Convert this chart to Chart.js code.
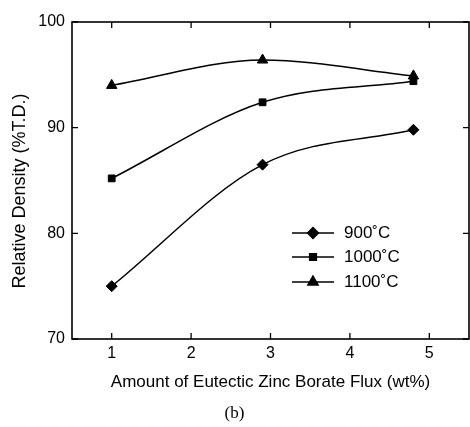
<!DOCTYPE html>
<html>
<head>
<meta charset="utf-8">
<script src="https://cdn.jsdelivr.net/npm/chart.js@4/dist/chart.umd.min.js"></script>
<style>
  html, body { margin: 0; padding: 0; background: #fff; }
  #wrap { width: 470px; height: 427px; }
</style>
</head>
<body>
<div id="wrap"><canvas id="densityChart" width="470" height="427"></canvas></div>
<script>
// Data
const fluxAmount = [1, 2.9, 4.8];          // wt%
const density900 = [75.0, 86.5, 89.8];
const density1000 = [85.2, 92.4, 94.4];
const density1100 = [94.0, 96.4, 94.9];
const seriesLabels = ['900\u02daC', '1000\u02daC', '1100\u02daC'];
const xTicks = [1, 2, 3, 4, 5];
const yTicks = [70, 80, 90, 100];

const SANS = "'Liberation Sans', Arial, Helvetica, sans-serif";
const Y_TITLE = 'Relative Density (%T.D.)';

const toPoints = ys => fluxAmount.map((x, i) => ({ x, y: ys[i] }));

// Box frame with inward tick marks on all four sides, y title, inset legend
const frameAndLegend = {
    id: 'frameAndLegend',
    afterDatasetsDraw(chart) {
        const { ctx, chartArea: a, scales: { x, y } } = chart;
        ctx.save();
        ctx.strokeStyle = '#000';
        ctx.lineWidth = 1.6;
        ctx.strokeRect(a.left, a.top, a.right - a.left, a.bottom - a.top);

        const tl = 6;
        ctx.lineWidth = 1.3;
        ctx.beginPath();
        xTicks.forEach(v => {
            const px = x.getPixelForValue(v);
            ctx.moveTo(px, a.bottom); ctx.lineTo(px, a.bottom - tl);
            ctx.moveTo(px, a.top); ctx.lineTo(px, a.top + tl);
        });
        yTicks.forEach(v => {
            const py = y.getPixelForValue(v);
            ctx.moveTo(a.left, py); ctx.lineTo(a.left + tl, py);
            ctx.moveTo(a.right, py); ctx.lineTo(a.right - tl, py);
        });
        ctx.stroke();

        // y axis title (sits a little below the plot centre in the original)
        ctx.save();
        ctx.translate(20, 191);
        ctx.rotate(-Math.PI / 2);
        ctx.fillStyle = '#000';
        ctx.font = '18px ' + SANS;
        ctx.textAlign = 'center';
        ctx.textBaseline = 'middle';
        ctx.fillText(Y_TITLE, 0, 0);
        ctx.restore();

        // legend
        const rows = [233, 257, 282];
        const x0 = 292, x1 = 334, xm = 313, xt = 344;
        chart.data.datasets.forEach((ds, i) => {
            const yy = rows[i];
            ctx.lineWidth = 1.4;
            ctx.beginPath();
            ctx.moveTo(x0, yy); ctx.lineTo(x1, yy);
            ctx.stroke();
            Chart.helpers.drawPoint(ctx, {
                pointStyle: ds.pointStyle,
                radius: ds.pointRadius,
                rotation: 0,
                borderWidth: 1
            }, xm, yy);
            ctx.fillStyle = '#000';
            ctx.fill();
            ctx.font = '17px ' + SANS;
            ctx.textBaseline = 'middle';
            ctx.textAlign = 'left';
            ctx.fillText(ds.label, xt, yy);
        });
        ctx.restore();
    }
};

const mkSet = (label, ys, style, r) => ({
    label,
    data: toPoints(ys),
    borderColor: '#000',
    backgroundColor: '#000',
    borderWidth: 1.5,
    pointStyle: style,
    pointRadius: r,
    pointBorderWidth: 1,
    cubicInterpolationMode: 'monotone',
    fill: false
});

new Chart(document.getElementById('densityChart'), {
    type: 'line',
    data: {
        datasets: [
            mkSet(seriesLabels[0], density900, 'rectRot', 5.5),
            mkSet(seriesLabels[1], density1000, 'rect', 4.8),
            mkSet(seriesLabels[2], density1100, 'triangle', 6)
        ]
    },
    options: {
        responsive: false,
        animation: false,
        layout: { autoPadding: false, padding: { top: 22, right: 1, left: 0, bottom: 0 } },
        plugins: {
            legend: { display: false },
            tooltip: { enabled: false },
            title: {
                display: true,
                position: 'bottom',
                text: '(b)',
                color: '#000',
                font: { family: "'Liberation Serif', 'Times New Roman', serif", size: 17, weight: 'normal' },
                padding: { top: 0, bottom: 3 }
            }
        },
        scales: {
            x: {
                type: 'linear',
                min: 0.5,
                max: 5.5,
                grid: { display: false, drawTicks: false },
                border: { display: false },
                afterBuildTicks: s => { s.ticks = xTicks.map(v => ({ value: v })); },
                afterFit: s => { s.height = 64.6; s.paddingLeft = 0; s.paddingRight = 0; },
                ticks: { color: '#000', padding: 5, font: { family: SANS, size: 16 } },
                title: {
                    display: true,
                    text: 'Amount of Eutectic Zinc Borate Flux (wt%)',
                    color: '#000',
                    font: { family: SANS, size: 17 },
                    padding: { top: 11, bottom: 11 }
                }
            },
            y: {
                min: 70,
                max: 100,
                grid: { display: false, drawTicks: false },
                border: { display: false },
                afterBuildTicks: s => { s.ticks = yTicks.map(v => ({ value: v })); },
                afterFit: s => { s.width = 72; },
                ticks: { color: '#000', padding: 7, font: { family: SANS, size: 16 } }
            }
        }
    },
    plugins: [frameAndLegend]
});
</script>
</body>
</html>
